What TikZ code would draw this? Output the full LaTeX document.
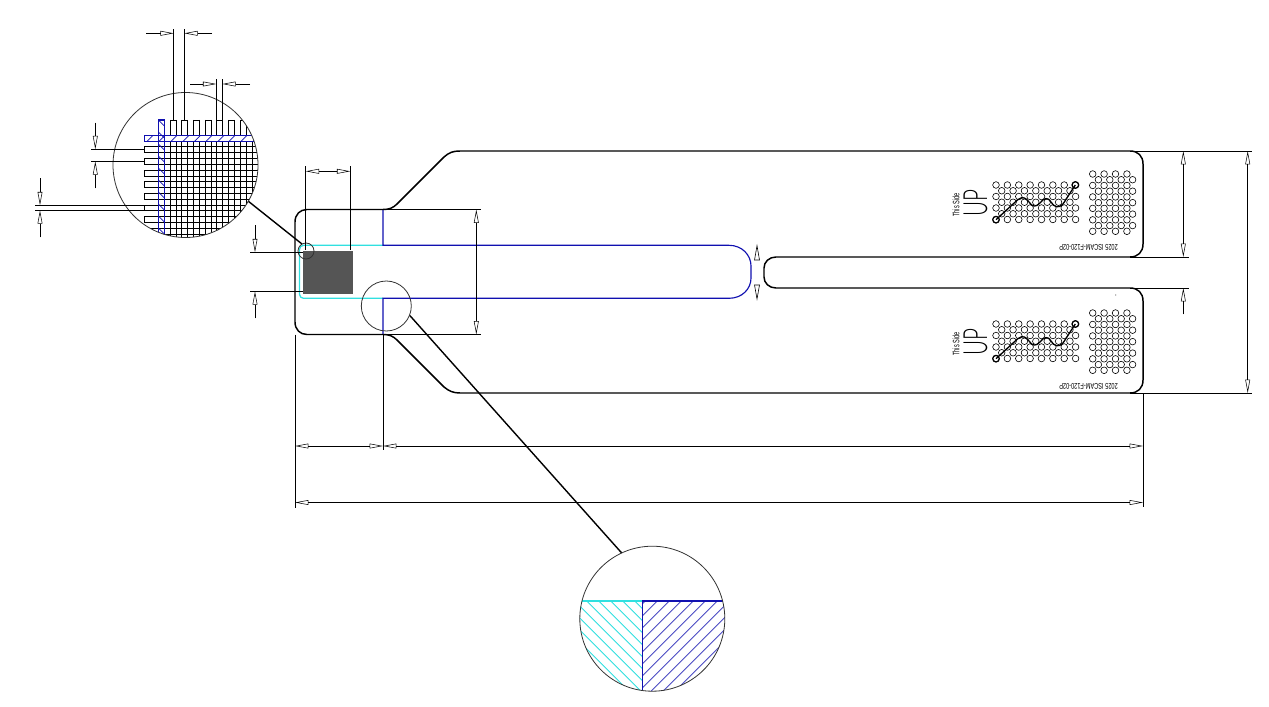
\documentclass[tikz,border=0pt]{standalone}
\usepackage{fontspec}
\setmainfont{Liberation Sans}
\newfontfamily\upfont{Lato Light}
\usetikzlibrary{arrows.meta}
\definecolor{cyanline}{HTML}{30E0E0}
\definecolor{blueline}{HTML}{1010B0}
\definecolor{chip}{HTML}{555555}
\tikzset{
  outline/.style={line width=1.1pt,black,line join=round},
  dimtip/.style={line width=0.68pt,black,-{Triangle[open,length=10pt,width=3.6pt,line width=0.4pt]}},
  dimtips/.style={line width=0.68pt,black,{Triangle[open,length=10pt,width=3.6pt,line width=0.4pt]}-{Triangle[open,length=10pt,width=3.6pt,line width=0.4pt]}},
  extline/.style={line width=0.68pt,black},
  leader/.style={line width=1.05pt,black},
  lens/.style={line width=0.6pt,black!80},
  hole/.style={line width=0.45pt,black},
  gridline/.style={line width=0.65pt,black},
  blueedge/.style={line width=0.85pt,blueline},
  cyanedge/.style={line width=0.95pt,cyanline},
}
\newcommand{\tabmarks}[2]{%
 \begin{scope}[yshift=#2]
  \foreach \r in {0,...,6}{
    \pgfmathtruncatemacro{\odd}{mod(\r,2)}
    \ifnum\odd=0
      \foreach \c in {0,...,7} \draw[hole] ({996+11.37*\c},{185+5.75*\r}) circle (3.3);
    \else
      \foreach \c in {0,...,6} \draw[hole] ({1001.7+11.37*\c},{185+5.75*\r}) circle (3.3);
    \fi
  }
  \foreach \r in {0,...,10}{
    \pgfmathtruncatemacro{\odd}{mod(\r,2)}
    \ifnum\odd=0
      \foreach \c in {0,...,3} \draw[hole] ({1092.7+11.4*\c},{174+5.73*\r}) circle (3.3);
    \else
      \foreach \c in {0,...,3} \draw[hole] ({1098.4+11.4*\c},{174+5.73*\r}) circle (3.3);
    \fi
  }
  \draw[line width=1pt,line join=round] (996,219.7) -- (1018,199.5) .. controls (1023,196) and (1026,198) .. (1029,202) .. controls (1032,207) and (1036,207.5) .. (1040,203) .. controls (1044,197.5) and (1048,197) .. (1051,202) .. controls (1054,207.5) and (1059,208.5) .. (1063,204) -- (1075.3,185);
  \draw[line width=0.9pt] (996,219.7) circle (3.3);
  \draw[line width=0.9pt] (1075.3,185) circle (3.3);
  \node[rotate=90,inner sep=0,font=\fontsize{7}{7}\selectfont,xscale=0.6] (side#1) at (956,205) {This Side};
  \node[rotate=90,inner sep=0,font=\upfont\fontsize{25}{25}\selectfont,xscale=0.62] (up#1) at (975.5,203) {UP};
  \node[rotate=180,inner sep=0,font=\fontsize{6.3}{6.3}\selectfont,xscale=0.67] (code#1) at (1088.5,247.6) {2025 ISCAM-F120-02P};
 \end{scope}}
\begin{document}
\begin{tikzpicture}[x=0.75pt,y=-0.75pt]
\useasboundingbox (0,0) rectangle (1269,706);
\fill[white] (0,0) rectangle (1269,706);

% chip
\fill[chip] (303,251) rectangle (353,294);

% cyan and blue layers
\draw[cyanedge,rounded corners=3] (383,245.3) -- (299.5,245.3) -- (299.5,298.3) -- (383,298.3);
\draw[blueedge] (383,209.5) -- (383,245.3) -- (729,245.3) .. controls (742,245.3) and (751,255) .. (751,266) -- (751,278) .. controls (751,289) and (742,298.3) .. (729,298.3) -- (383,298.3) -- (383,334.5);

% outline
\draw[outline] (307,209.5) -- (383,209.5) .. controls (389,209.5) and (393,208) .. (397,204) -- (444,157) .. controls (449,152.5) and (453,151) .. (460,151) -- (1130,151) .. controls (1138,151) and (1143,156) .. (1143,164) -- (1143,244) .. controls (1143,252) and (1138,257) .. (1130,257) -- (776,257) .. controls (769,257) and (764,262) .. (764,268) -- (764,277) .. controls (764,283) and (769,288) .. (776,288) -- (1130,288) .. controls (1138,288) and (1143,293) .. (1143,301) -- (1143,380) .. controls (1143,388) and (1138,393) .. (1130,393) -- (460,393) .. controls (453,393) and (449,391) .. (444,387) -- (397,340) .. controls (393,336) and (389,334.5) .. (383,334.5) -- (307,334.5) .. controls (300,334.5) and (295,329.5) .. (295,322) -- (295,222) .. controls (295,214.5) and (300,209.5) .. (307,209.5) -- cycle;

\tabmarks{a}{0pt}
\tabmarks{b}{-104.25pt}
\fill[black!60] (1115.7,295) circle (0.6);

% lens circles on the part
\draw[lens] (306,251) circle (8);
\draw[lens] (386.3,306) circle (25);
\draw[leader] (248,201) -- (302,244);
\draw[leader] (410,315.7) -- (621.7,553);

% detail A
\begin{scope}
 \clip (185.5,165) circle (72.5);
 \foreach \v in {170.3,176,181.7,187.3,193.7,199.3,205.3,211,216.7,222.3,228.7,234.3,240.3,246,252,258}
   \draw[gridline] (\v,120) -- (\v,240);
 \foreach \v in {146.3,152.3,158.3,164,170,176,181.7,187.7,193.3,199.3,205,210.7,216.7,222.7,228.3,234.3}
   \draw[gridline] (144.3,\v) -- (260,\v);
 \foreach \v in {170.3,181.7,193.7,205.3,216.7,228.7,240.3}
   \draw[gridline] (\v,120) -- ++(5.7,0);
 \foreach \v in {146.3,158.3,170,181.7,193.3,205,216.7,228.3}
   \draw[gridline] (144.3,\v) -- ++(0,6);
 \fill[white] (144.3,135.3) rectangle (260,141.3);
 \foreach \v in {146,158,170,182,193.5,205,217,228,240,252}
   \draw[blueline,line width=0.5pt] (\v+1,141.3) -- ++(6,-6);
 \foreach \v in {120,132,144,156,168,180,192,204,216,228}
   \draw[blueline,line width=0.5pt] (158.3,\v) -- ++(6,6);
 \draw[blueedge] (144.3,135.3) rectangle (262,141.3);
 \draw[blueedge] (158.3,120) rectangle (164.3,242);
\end{scope}
\draw[lens] (185.5,165) circle (72.5);

% detail B
\begin{scope}
 \clip (652.3,618.7) circle (72.5);
 \begin{scope}
  \clip (575,601) rectangle (642.3,695);
  \foreach \k in {-134.3,-122.3,...,50}
    \draw[cyanline,line width=0.7pt] ({561+\k},561) -- ({721+\k},721);
 \end{scope}
 \begin{scope}
  \clip (642.3,601) rectangle (730,695);
  \foreach \k in {1198.3,1210.3,...,1400}
    \draw[blueline!75,line width=0.7pt] ({\k-561},561) -- ({\k-721},721);
 \end{scope}
 \draw[cyanedge] (575,601) -- (642.3,601);
 \draw[blueedge] (642.3,601) -- (730,601);
 \draw[blueedge] (642.3,601) -- (642.3,695);
\end{scope}
\draw[lens] (652.3,618.7) circle (72.5);

% detail A dimensions
\draw[extline] (173.7,120) -- (173.7,29);
\draw[extline] (184.3,120) -- (184.3,29);
\draw[dimtip] (146,33.3) -- (173.7,33.3);
\draw[dimtip] (212,33.3) -- (184.3,33.3);
\draw[extline] (216.3,120) -- (216.3,79);
\draw[extline] (222.3,120) -- (222.3,79);
\draw[dimtip] (190,84) -- (216.3,84);
\draw[dimtip] (250,84) -- (222.3,84);
\draw[extline] (91,149.3) -- (144.3,149.3);
\draw[extline] (91,161.3) -- (144.3,161.3);
\draw[dimtip] (95.3,122.7) -- (95.3,149.3);
\draw[dimtip] (95.3,188.3) -- (95.3,161.3);
\draw[extline] (35,205.3) -- (144.3,205.3);
\draw[extline] (35,210.3) -- (144.3,210.3);
\draw[dimtip] (40,178.3) -- (40,205.3);
\draw[dimtip] (40,237.3) -- (40,210.3);

% part dimensions
\draw[extline] (305.7,166) -- (305.7,250);
\draw[extline] (350.3,166) -- (350.3,250);
\draw[dimtips] (305.7,171.3) -- (350.3,171.3);
\draw[extline] (250,252.3) -- (303,252.3);
\draw[extline] (250,291.3) -- (303,291.3);
\draw[dimtip] (255,225) -- (255,252.3);
\draw[dimtip] (255,318.3) -- (255,291.3);
\draw[extline] (383,209.5) -- (480.7,209.5);
\draw[extline] (383,334.5) -- (480.7,334.5);
\draw[dimtips] (476.3,209.5) -- (476.3,334.5);
\draw[extline] (295,334.5) -- (295,508);
\draw[extline] (383,334.5) -- (383,450);
\draw[extline] (1143,393) -- (1143,507);
\draw[dimtips] (295,446) -- (383,446);
\draw[dimtips] (383,446) -- (1143,446);
\draw[dimtips] (295,502.5) -- (1143,502.5);
\draw[extline] (1130,151) -- (1251.7,151);
\draw[extline] (1130,257) -- (1189,257);
\draw[extline] (1130,288) -- (1189,288);
\draw[extline] (1130,393) -- (1251.7,393);
\draw[dimtips] (1183.3,151) -- (1183.3,257);
\draw[dimtip] (1183.3,314.3) -- (1183.3,288);
\draw[dimtips] (1247.7,151) -- (1247.7,393);

% gap arrows
\draw[line width=0.45pt] (757,245.7) -- (754.5,260) -- (759.5,260) -- cycle;
\draw[line width=0.45pt] (757,299) -- (754.5,285) -- (759.5,285) -- cycle;
\end{tikzpicture}
\end{document}
